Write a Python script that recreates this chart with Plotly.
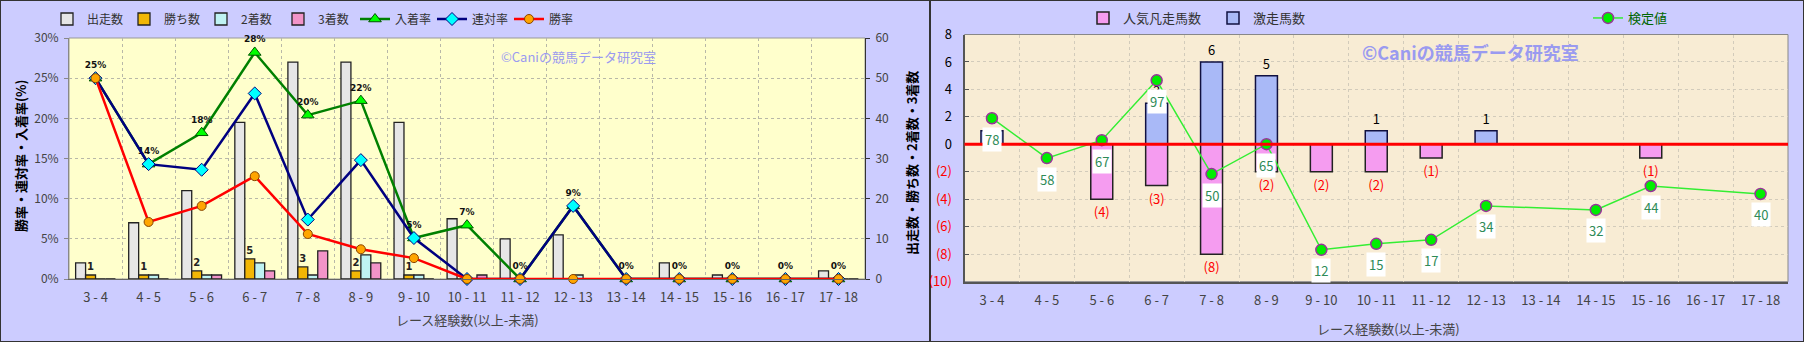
import plotly.graph_objects as go

# ---------------- data ----------------
categories = ["3 - 4", "4 - 5", "5 - 6", "6 - 7", "7 - 8", "8 - 9", "9 - 10", "10 - 11",
              "11 - 12", "12 - 13", "13 - 14", "14 - 15", "15 - 16", "16 - 17", "17 - 18"]
runs = [4, 14, 22, 39, 54, 54, 39, 15, 10, 11, 0, 4, 1, 0, 2]          # 出走数
wins = [1, 1, 2, 5, 3, 2, 1, 0, 0, 0, 0, 0, 0, 0, 0]                    # 勝ち数
seconds = [0, 1, 1, 4, 1, 6, 1, 0, 0, 1, 0, 0, 0, 0, 0]                 # 2着数
thirds = [0, 0, 1, 2, 7, 4, 0, 1, 0, 0, 0, 0, 0, 0, 0]                  # 3着数
place_rate = [25.0, 14.3, 18.2, 28.2, 20.4, 22.2, 5.1, 6.7, 0, 9.1, 0, 0, 0, 0, 0]   # 入着率
top2_rate = [25.0, 14.3, 13.6, 23.1, 7.4, 14.8, 5.1, 0, 0, 9.1, 0, 0, 0, 0, 0]      # 連対率
win_rate = [25.0, 7.1, 9.1, 12.8, 5.6, 3.7, 2.6, 0, 0, 0, 0, 0, 0, 0, 0]            # 勝率

gekisou = [1, 0, 0, 3, 6, 5, 0, 1, 0, 1, 0, 0, 0, 0, 0]                 # 激走馬数
bonsou = [0, 0, 4, 3, 8, 2, 2, 2, 1, 0, 0, 0, 1, 0, 0]                  # 人気凡走馬数
kentei = [78, 58, 67, 97, 50, 65, 12, 15, 17, 34, None, 32, 44, None, 40]  # 検定値

JP = "Noto Sans CJK JP"
W, H = 1804, 342

def px_x(p):
    return p / W

def px_y(p):
    return 1 - p / H

# plot areas (pixels)
L_x0, L_x1, L_y0, L_y1 = 69, 865, 38, 279
R_x0, R_x1, R_y0, R_y1 = 964.5, 1788, 34.5, 281.7

fig = go.Figure()

# ---------------- left chart: bars ----------------
bar_specs = [("出走数", runs, "#E6E6E6"), ("勝ち数", wins, "#F2B705"),
             ("2着数", seconds, "#BFF3F3"), ("3着数", thirds, "#F294C8")]
for name, vals, col in bar_specs:
    kw = {}
    if name == "勝ち数":
        kw = dict(text=[str(v) if v > 0 else "" for v in vals], textposition="outside",
                  textfont=dict(family="DejaVu Sans", size=10, color="#222", weight="bold"),
                  cliponaxis=False)
    fig.add_trace(go.Bar(x=categories, y=vals, name=name,
                         marker=dict(color=col, line=dict(color="#222", width=1.3)),
                         xaxis="x", yaxis="y", legend="legend", **kw))

# ---------------- left chart: lines ----------------
fig.add_trace(go.Scatter(
    x=categories, y=place_rate, name="入着率", mode="lines+markers+text",
    text=[f"{round(v)}%" for v in place_rate], textposition="top center",
    textfont=dict(family="DejaVu Sans", size=9, color="#111", weight="bold"),
    line=dict(color="#008000", width=2.5),
    marker=dict(symbol="triangle-up", size=11, color="#00FF00", line=dict(color="#005500", width=1)),
    xaxis="x", yaxis="y2", legend="legend", cliponaxis=False))
fig.add_trace(go.Scatter(
    x=categories, y=top2_rate, name="連対率", mode="lines+markers",
    line=dict(color="#000080", width=2.5),
    marker=dict(symbol="diamond", size=10, color="#00FFFF", line=dict(color="#000080", width=1)),
    xaxis="x", yaxis="y2", legend="legend", cliponaxis=False))
fig.add_trace(go.Scatter(
    x=categories, y=win_rate, name="勝率", mode="lines+markers",
    line=dict(color="#FF0000", width=2.5),
    marker=dict(symbol="circle", size=9, color="#FFA500", line=dict(color="#884400", width=1)),
    xaxis="x", yaxis="y2", legend="legend", cliponaxis=False))

# ---------------- right chart ----------------
fig.add_trace(go.Bar(
    x=categories, y=[-v for v in bonsou], name="人気凡走馬数",
    marker=dict(color="#F59CF0", line=dict(color="#222", width=1.5)),
    text=[f"({v})" if v > 0 else "" for v in bonsou], textposition="outside",
    textfont=dict(family=JP, size=13, color="#FF0000"), cliponaxis=False,
    offsetgroup="r", width=0.4, xaxis="x2", yaxis="y3", legend="legend2"))
fig.add_trace(go.Bar(
    x=categories, y=gekisou, name="激走馬数",
    marker=dict(color="#A9B9F7", line=dict(color="#101040", width=1.5)),
    text=[str(v) if v > 0 else "" for v in gekisou], textposition="outside",
    textfont=dict(family=JP, size=13, color="#000"), cliponaxis=False,
    offsetgroup="r", width=0.4, xaxis="x2", yaxis="y3", legend="legend2"))
fig.add_trace(go.Scatter(
    x=categories, y=kentei, name="検定値", mode="lines+markers", connectgaps=True,
    line=dict(color="#33EE33", width=1.5),
    marker=dict(size=11, color="#00EE00", line=dict(color="#993399", width=1.5)),
    xaxis="x2", yaxis="y4", legend="legend3", cliponaxis=False))

annotations = []
for c, v in zip(categories, kentei):
    if v is None:
        continue
    annotations.append(dict(x=c, y=v, xref="x2", yref="y4", text=str(v), showarrow=False,
                            xanchor="center", yanchor="middle",
                            yshift=-21, bgcolor="white", borderpad=2,
                            font=dict(family=JP, size=13, color="#2E8B57")))

# titles / watermarks
def pann(xp, yp, text, font, angle=0):
    return dict(x=px_x(xp), y=px_y(yp), xref="paper", yref="paper", text=text,
                textangle=angle, showarrow=False, xanchor="center", yanchor="middle", font=font)

annotations += [
    pann(20, 156, "勝率・連対率・入着率(%)", dict(family=JP, size=13, color="#000", weight="bold"), -90),
    pann(911, 163, "出走数・勝ち数・2着数・3着数", dict(family=JP, size=13, color="#000", weight="bold"), -90),
    pann(468, 319, "レース経験数(以上-未満)", dict(family=JP, size=13, color="#444")),
    pann(1388, 328, "レース経験数(以上-未満)", dict(family=JP, size=13, color="#444")),
    pann(578, 57, "©Caniの競馬データ研究室", dict(family=JP, size=13, color="#9A9AF0")),
    pann(1470, 52, "©Caniの競馬データ研究室", dict(family=JP, size=18, color="#9A9AF0", weight="bold")),
]

shapes = [
    # panel backgrounds + borders
    dict(type="rect", xref="paper", yref="paper", x0=0, x1=px_x(930), y0=0, y1=1,
         fillcolor="#CCCCFF", line=dict(color="#333", width=2), layer="below"),
    dict(type="rect", xref="paper", yref="paper", x0=px_x(930), x1=1, y0=0, y1=1,
         fillcolor="#CCCCFF", line=dict(color="#333", width=2), layer="below"),
    # plot area backgrounds
    dict(type="rect", xref="paper", yref="paper", x0=px_x(L_x0), x1=px_x(L_x1),
         y0=px_y(L_y1), y1=px_y(L_y0), fillcolor="#FFFFCC",
         line=dict(color="#999", width=1), layer="below"),
    dict(type="rect", xref="paper", yref="paper", x0=px_x(R_x0), x1=px_x(R_x1),
         y0=px_y(R_y1), y1=px_y(R_y0), fillcolor="#F8ECD4",
         line=dict(color="#888", width=1), layer="below"),
    # red zero line
    dict(type="line", xref="x2 domain", yref="y3", x0=0, x1=1, y0=0, y1=0,
         line=dict(color="#FF0000", width=3), layer="above"),
]

neg_ticks = [-10, -8, -6, -4, -2]
pos_ticks = [0, 2, 4, 6, 8]
r_tickvals = neg_ticks + pos_ticks
r_ticktext = [f"<span style='color:#FF0000'>({-v})</span>" for v in neg_ticks] + [str(v) for v in pos_ticks]

grid_l = "#B8B8A8"
grid_r = "#D2CBBB"
ncat = len(categories)

fig.update_layout(
    width=W, height=H, margin=dict(l=0, r=0, t=0, b=0, autoexpand=False),
    paper_bgcolor="#CCCCFF", plot_bgcolor="rgba(0,0,0,0)",
    barmode="group", bargap=0.25, bargroupgap=0,
    font=dict(family=JP, size=12, color="#333"),
    showlegend=True,
    xaxis=dict(domain=[px_x(L_x0), px_x(L_x1)], anchor="y", type="category",
               range=[-0.5, ncat - 0.5], automargin=False,
               tickson="boundaries", showgrid=True, gridcolor=grid_l, griddash="dot",
               ticks="", tickfont=dict(family=JP, size=13, color="#444"), ticklabelstandoff=6,
               showline=True, linecolor="#666", linewidth=1),
    yaxis=dict(domain=[px_y(L_y1), px_y(L_y0)], anchor="x", side="right", range=[0, 60],
               automargin=False,
               dtick=10, showgrid=True, gridcolor=grid_l, griddash="dot", zeroline=False,
               ticks="outside", ticklen=4, tickcolor="#333", ticklabelstandoff=3,
               tickfont=dict(family=JP, size=12, color="#444"),
               showline=True, linecolor="#333", linewidth=1),
    yaxis2=dict(overlaying="y", anchor="x", side="left", range=[0, 30], dtick=5,
                automargin=False,
                ticksuffix="%", showgrid=False, zeroline=False,
                ticks="outside", ticklen=4, tickcolor="#888", ticklabelstandoff=3,
                tickfont=dict(family=JP, size=12, color="#444"),
                showline=True, linecolor="#888", linewidth=1),
    xaxis2=dict(domain=[px_x(R_x0), px_x(R_x1)], anchor="y3", type="category",
                range=[-0.5, ncat - 0.5], automargin=False,
                tickson="boundaries", showgrid=True, gridcolor=grid_r, griddash="dot",
                ticks="", tickfont=dict(family=JP, size=13, color="#444"), ticklabelstandoff=6,
                showline=True, linecolor="#555", linewidth=2),
    yaxis3=dict(domain=[px_y(R_y1), px_y(R_y0)], anchor="x2", range=[-10, 8],
                automargin=False,
                tickvals=r_tickvals, ticktext=r_ticktext, showgrid=True, gridcolor=grid_r,
                griddash="dot", zeroline=False, ticks="inside", ticklen=4, tickcolor="#555",
                ticklabelstandoff=8, tickfont=dict(family=JP, size=13, color="#000"),
                showline=True, linecolor="#555", linewidth=2),
    yaxis4=dict(overlaying="y3", anchor="x2", range=[-4, 120], visible=False, automargin=False),
    legend=dict(orientation="h", x=px_x(47), y=px_y(19), xanchor="left", yanchor="middle",
                bgcolor="rgba(0,0,0,0)", font=dict(family=JP, size=12, color="#333"),
                itemwidth=30, entrywidth=32, traceorder="normal"),
    legend2=dict(orientation="h", x=px_x(1083), y=px_y(18), xanchor="left", yanchor="middle",
                 bgcolor="rgba(0,0,0,0)", font=dict(family=JP, size=13, color="#333"),
                 entrywidth=85, traceorder="normal"),
    legend3=dict(orientation="h", x=px_x(1588), y=px_y(18), xanchor="left", yanchor="middle",
                 bgcolor="rgba(0,0,0,0)", font=dict(family=JP, size=13, color="#006600")),
    annotations=annotations,
    shapes=shapes,
)

fig.write_html("out.html")
